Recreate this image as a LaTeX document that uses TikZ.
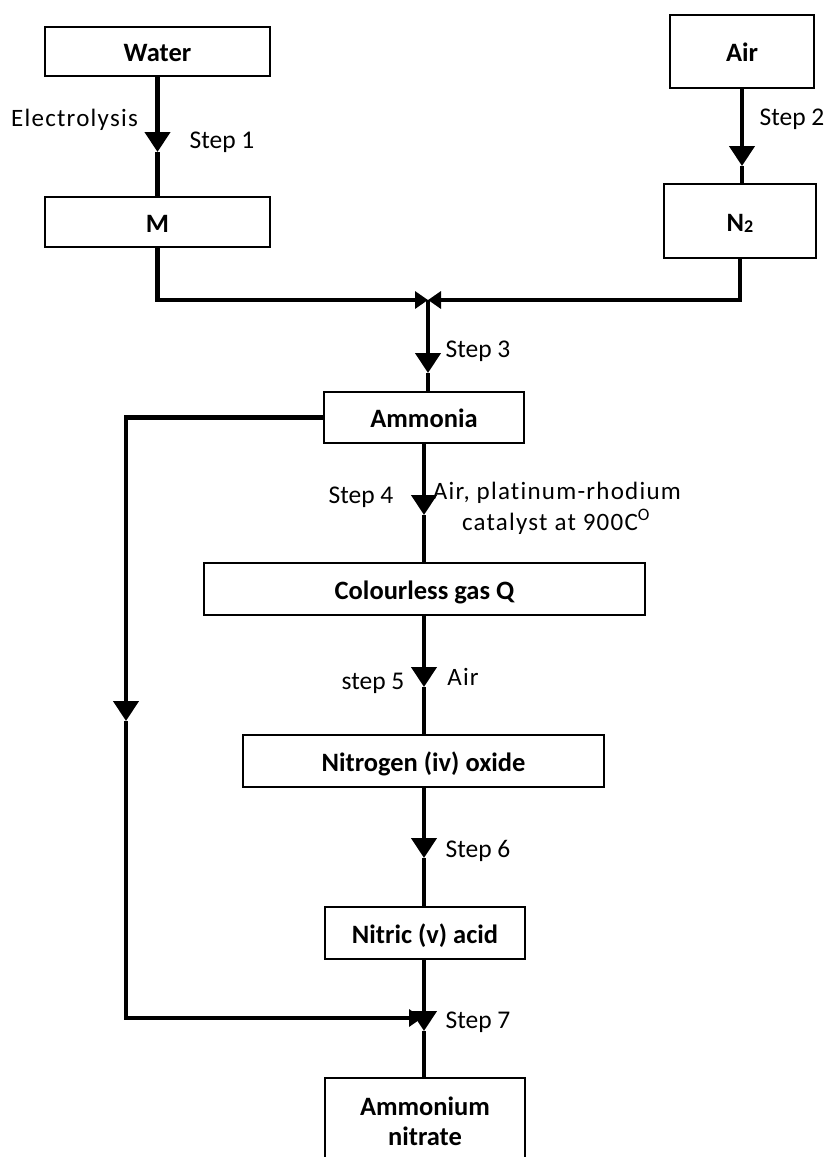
\documentclass[tikz,border=0pt]{standalone}
\usepackage{fontspec}
\setmainfont{Carlito}
\newfontfamily\spacedfont[LetterSpace=5,Ligatures={NoCommon}]{Carlito}
\usetikzlibrary{arrows.meta}
\begin{document}
\begin{tikzpicture}[x=1pt,y=-1pt,
  box/.style={draw, line width=1.7pt, inner sep=0pt, text height=21pt, text depth=1pt,
    font=\fontsize{26.5}{30}\selectfont\bfseries, align=center},
  conn/.style={line width=4.2pt, line join=miter},
  bigtip/.style={-{Triangle[width=25pt,length=20pt]}},
  smalltip/.style={-{Triangle[width=17pt,length=13pt]}},
  lbl/.style={font=\fontsize{25.5}{30}\selectfont, inner sep=0pt, anchor=base},
  slbl/.style={font=\fontsize{25}{30}\selectfont\spacedfont, inner sep=0pt, anchor=base}]
\useasboundingbox (0,0) rectangle (827,1157);
\clip (0,0) rectangle (827,1157);

% boxes
\node[box, minimum width=225pt, minimum height=49pt] (water) at (157.5,51.5) {Water};
\node[box, minimum width=225pt, minimum height=50pt] (m) at (157.5,222) {M};
\node[box, minimum width=144pt, minimum height=73pt] (air) at (742,51.5) {Air};
\node[box, minimum width=152pt, minimum height=74pt] (n2) at (740,221) {N\raisebox{-1pt}{\fontsize{18}{18}\selectfont 2}};
\node[box, minimum width=200pt, minimum height=51pt] (ammonia) at (424,417.5) {Ammonia};
\node[box, minimum width=441pt, minimum height=52pt] (gasq) at (424.5,589) {Colourless gas Q};
\node[box, minimum width=361pt, minimum height=52pt] (no2) at (423.5,761) {Nitrogen (iv) oxide};
\node[box, minimum width=200pt, minimum height=52pt] (nitric) at (425,933) {Nitric (v) acid};
\node[box, minimum width=200pt, minimum height=84pt, text height=51pt, text depth=1pt] (ammnit) at (425,1120) {Ammonium\\nitrate};

% connector points
\coordinate (a1) at (157.5,152);
\coordinate (a2) at (742,166);
\coordinate (j) at (428,300);
\coordinate (a3) at (428,373);
\coordinate (a4) at (424,515);
\coordinate (a5) at (424,687);
\coordinate (a6) at (424,858);
\coordinate (a7) at (424,1031);
\coordinate (lc) at (126,721);
\coordinate (k) at (422,1018);

% connectors
\draw[conn,bigtip] (water.south) -- (a1);
\draw[conn] (a1) -- (m.north);
\draw[conn,bigtip] (air.south) -- (a2);
\draw[conn] (a2) -- (a2 |- n2.north);
\draw[conn,smalltip] (m.south) |- (j);
\draw[conn,smalltip] (n2.south) |- (j);
\draw[conn,bigtip] (j) -- (a3);
\draw[conn] (a3) -- (a3 |- ammonia.north);
\draw[conn,bigtip] (a4 |- ammonia.south) -- (a4);
\draw[conn] (a4) -- (a4 |- gasq.north);
\draw[conn,bigtip] (a5 |- gasq.south) -- (a5);
\draw[conn] (a5) -- (a5 |- no2.north);
\draw[conn,bigtip] (a6 |- no2.south) -- (a6);
\draw[conn] (a6) -- (a6 |- nitric.north);
\draw[conn,bigtip] (a7 |- nitric.south) -- (a7);
\draw[conn] (a7) -- (a7 |- ammnit.north);
\draw[conn,bigtip] (ammonia.west) -| (lc);
\draw[conn,smalltip] (lc) |- (k);

% labels
\node[slbl] (lelec) at (74.5,126) {Electrolysis};
\node[lbl] (ls1) at (222,148) {Step 1};
\node[lbl] (ls2) at (792,125) {Step 2};
\node[lbl] (ls3) at (478,357) {Step 3};
\node[lbl] (ls4) at (361,503) {Step 4};
\node[slbl] (lcat1) at (557,499) {Air, platinum-rhodium};
\node[slbl] (lcat2) at (556,530) {catalyst at 900C\textsuperscript{O}};
\node[lbl] (ls5) at (373,689) {step 5};
\node[slbl] (lair) at (463,685) {Air};
\node[lbl] (ls6) at (478,857) {Step 6};
\node[lbl] (ls7) at (478,1028) {Step 7};
\end{tikzpicture}
\end{document}
